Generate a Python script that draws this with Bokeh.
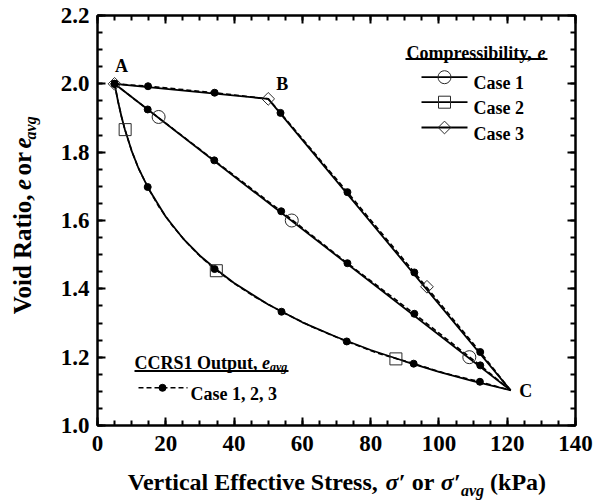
import numpy as np
from bokeh.plotting import figure
from bokeh.layouts import row, column
from bokeh.models import Range1d, LinearAxis, FixedTicker, NumeralTickFormatter, Label
from bokeh.embed import file_html
from bokeh.resources import INLINE
from bokeh.core.properties import value

# ---------------- data ----------------
x_major_ticks = [0, 20, 40, 60, 80, 100, 120, 140]
y_major_ticks = [1.0, 1.2, 1.4, 1.6, 1.8, 2.0, 2.2]

# Compressibility, e  (solid lines)
case1_e_x = [5, 121]
case1_e_y = [2.0, 1.103]
case1_mk_x = [17.9, 56.9, 108.9]
case1_mk_y = [1.903, 1.600, 1.200]

case2_e_x = [5, 6, 7, 8, 10, 12, 15, 20, 25, 30, 35, 40, 50, 60, 70, 80, 90, 100, 110, 121]
case2_e_y = [2.0, 1.949, 1.905, 1.867, 1.804, 1.753, 1.692, 1.611, 1.548, 1.497, 1.455, 1.417,
             1.354, 1.302, 1.259, 1.221, 1.188, 1.157, 1.130, 1.103]
case2_mk_x = [8.1, 34.8, 87.4]
case2_mk_y = [1.866, 1.453, 1.195]

case3_e_x = [5, 50, 121]
case3_e_y = [2.0, 1.956, 1.103]
case3_mk_x = [5, 50, 96.5]
case3_mk_y = [2.0, 1.956, 1.406]

point_names = ["A", "B", "C"]

# CCRS1 Output, e_avg  (dashed lines; dots at the output steps)
ccrs1_line_x = [5, 14.7, 34.2, 53.8, 73.2, 92.8, 112.1, 121]
ccrs1_line_y = [2.0, 1.925, 1.776, 1.627, 1.475, 1.327, 1.176, 1.103]
ccrs2_line_x = [5, 6, 7, 8, 10, 12, 14.7, 18, 22, 26, 30, 34.3, 40, 46, 53.9, 63, 73.0, 82,
                92.6, 102, 112.0, 121]
ccrs2_line_y = [2.0, 1.949, 1.905, 1.867, 1.804, 1.753, 1.698, 1.640, 1.584, 1.537, 1.496, 1.458,
                1.416, 1.377, 1.333, 1.288, 1.246, 1.212, 1.181, 1.152, 1.128, 1.103]
ccrs3_line_x = [5, 14.8, 34.3, 50, 53.6, 73.2, 92.8, 112.1, 121]
ccrs3_line_y = [2.0, 1.993, 1.974, 1.956, 1.915, 1.683, 1.448, 1.215, 1.103]

ccrs1_dot_x = [5, 14.7, 34.2, 53.8, 73.2, 92.8, 112.1]
ccrs1_dot_y = [2.0, 1.925, 1.776, 1.627, 1.475, 1.327, 1.176]
ccrs2_dot_x = [5, 14.7, 34.3, 53.9, 73.0, 92.6, 112.0]
ccrs2_dot_y = [2.0, 1.698, 1.458, 1.333, 1.246, 1.181, 1.128]
ccrs3_dot_x = [5, 14.8, 34.3, 53.6, 73.2, 92.8, 112.1]
ccrs3_dot_y = [2.0, 1.993, 1.974, 1.915, 1.683, 1.448, 1.215]

# ---------------- layout (page pixels) ----------------
W, H = 598, 502
YLAB_W = 50          # strip at the left holding the y-axis title
XLAB_H = 37          # strip at the bottom holding the x-axis title
FL, FT, FR = 97, 15, 23          # frame edges in page pixels
MAIN_W, MAIN_H = W - YLAB_W, H - XLAB_H
FB_MAIN = 40
FW = W - FL - FR
FH = MAIN_H - FT - FB_MAIN
XMIN, XMAX, YMIN, YMAX = 0, 140, 1.0, 2.2


def X(px):
    return XMIN + (px - FL) / FW * (XMAX - XMIN)


def Y(py):
    return YMAX - (py - FT) / FH * (YMAX - YMIN)


FONT = "Liberation Serif"

p = figure(width=MAIN_W, height=MAIN_H, x_range=Range1d(XMIN, XMAX), y_range=Range1d(YMIN, YMAX),
           output_backend="svg", toolbar_location=None,
           min_border_left=FL - YLAB_W, min_border_right=FR, min_border_top=FT,
           min_border_bottom=FB_MAIN)
p.xgrid.visible = False
p.ygrid.visible = False
p.outline_line_color = "black"
p.outline_line_width = 2
p.background_fill_color = "white"
p.border_fill_color = "white"

x_minor = [i * 5 for i in range(0, 29)]
y_minor = [round(1.0 + i * 0.05, 2) for i in range(0, 25)]

p.add_layout(LinearAxis(), "above")
p.add_layout(LinearAxis(), "right")


def style_axis(ax, ticks, minor, show):
    ax.ticker = FixedTicker(ticks=ticks, minor_ticks=minor)
    ax.axis_line_width = 2
    ax.axis_line_color = "black"
    ax.major_tick_in = 8
    ax.major_tick_out = 0
    ax.minor_tick_in = 5
    ax.minor_tick_out = 0
    ax.major_tick_line_width = 2
    ax.minor_tick_line_width = 2
    ax.axis_label = None
    if show:
        ax.major_label_text_font = FONT
        ax.major_label_text_font_style = "bold"
        ax.major_label_text_font_size = "23px"
        ax.major_label_text_color = "black"
    else:
        ax.major_label_text_color = None
        ax.major_label_text_font_size = "2px"
        ax.major_label_standoff = 0


for ax in p.below:
    style_axis(ax, x_major_ticks, x_minor, True)
    ax.major_label_standoff = 10
for ax in p.above:
    style_axis(ax, x_major_ticks, x_minor, False)
for ax in p.left:
    style_axis(ax, y_major_ticks, y_minor, True)
    ax.formatter = NumeralTickFormatter(format="0.0")
    ax.major_label_standoff = 8
for ax in p.right:
    style_axis(ax, y_major_ticks, y_minor, False)

LW = 1.8
MK_COLOR = "#2a2a2a"

# CCRS1 dashed lines + dots
for lx, ly, dx, dy in [(ccrs1_line_x, ccrs1_line_y, ccrs1_dot_x, ccrs1_dot_y),
                       (ccrs2_line_x, ccrs2_line_y, ccrs2_dot_x, ccrs2_dot_y),
                       (ccrs3_line_x, ccrs3_line_y, ccrs3_dot_x, ccrs3_dot_y)]:
    p.line(lx, ly, line_color="black", line_width=1.6, line_dash="5 3")
    p.scatter(dx, dy, marker="circle", size=7, fill_color="black", line_color="black")

# Compressibility solid lines
p.line(case1_e_x, case1_e_y, line_color="black", line_width=LW)
p.line(case2_e_x, case2_e_y, line_color="black", line_width=LW)
p.line(case3_e_x, case3_e_y, line_color="black", line_width=LW)

# open markers
CIRC = dict(marker="circle", size=13, fill_alpha=0, line_color=MK_COLOR, line_width=1)
SQR = dict(marker="square", size=12, fill_alpha=0, line_color=MK_COLOR, line_width=1)
DIA = dict(marker="square", size=9, angle=np.pi / 4, fill_alpha=0, line_color=MK_COLOR, line_width=1)
p.scatter(case1_mk_x, case1_mk_y, **CIRC)
p.scatter(case2_mk_x, case2_mk_y, **SQR)
p.scatter(case3_mk_x, case3_mk_y, **DIA)

# point labels A, B, C
p.text(x=case3_e_x, y=case3_e_y, text=point_names, x_offset=[7, 14, 15], y_offset=[-18, -15, 1],
       text_font=value(FONT), text_font_style="bold", text_font_size="18px",
       text_align="center", text_baseline="middle", text_color="black")

# ---------------- rich text helpers ----------------
TB = {' ': 250, '(': 333, ')': 333, ',': 250, '.': 250, 'A': 722, 'B': 667, 'C': 722, 'E': 667,
      'O': 778, 'P': 611, 'R': 722, 'S': 556, 'V': 722, 'a': 500, 'b': 556, 'c': 444, 'd': 556,
      'e': 444, 'f': 333, 'g': 500, 'i': 278, 'k': 556, 'l': 278, 'm': 833, 'o': 500, 'p': 556,
      'r': 444, 's': 389, 't': 333, 'u': 556, 'v': 500, 'y': 500, 'σ': 560, '′': 300}
for d in "0123456789":
    TB[d] = 500
TBI = dict(TB)
TBI.update({'v': 444})


def text_w(s, size, style):
    tab = TBI if "italic" in style else TB
    return sum(tab.get(ch, 500) for ch in s) * size / 1000.0


def rich_label(fig, pieces, px, py, xmap, ymap):
    """Horizontal rich text as Labels; pieces: (text, size_px, style, baseline_shift_px)."""
    pos = 0.0
    for txt, size, style, shift in pieces:
        core = txt.strip()
        lead = text_w(txt[:len(txt) - len(txt.lstrip())], size, style)
        fig.add_layout(Label(x=xmap(px + pos + lead), y=ymap(py + shift), text=core, text_font=FONT,
                             text_font_size=f"{size}px", text_font_style=style,
                             text_align="left", text_baseline="alphabetic", text_color="black"))
        pos += text_w(txt, size, style)


def rich_glyph_centered(fig, pieces, px, py, vertical=False):
    """Rich text as text glyphs, each piece centred on its own box.
    Horizontal: reads left->right from px with baseline py.
    Vertical: reads bottom->top from py with baseline at x=px."""
    pos = 0.0
    for txt, size, style, shift in pieces:
        core = txt.strip()
        lead = text_w(txt[:len(txt) - len(txt.lstrip())], size, style)
        cw = text_w(core, size, style)
        mid = pos + lead + cw / 2
        if vertical:
            cx, cy, ang = px + shift - 0.34 * size, py - mid, np.pi / 2
        else:
            cx, cy, ang = px + mid, py + shift - 0.34 * size, 0
        fig.text(x=[cx], y=[cy], text=[core], angle=ang, text_font=value(FONT),
                 text_font_size=f"{size}px", text_font_style=style, text_align="center",
                 text_baseline="middle", text_color="black")
        pos += text_w(txt, size, style)


def strip(w, h):
    f = figure(width=w, height=h, x_range=Range1d(0, w), y_range=Range1d(h, 0), title=None,
               output_backend="svg", toolbar_location=None, x_axis_type=None, y_axis_type=None,
               min_border=0, min_border_left=0, min_border_right=0, min_border_top=0,
               min_border_bottom=0)
    f.outline_line_color = None
    f.xgrid.visible = False
    f.ygrid.visible = False
    f.background_fill_color = "white"
    f.border_fill_color = "white"
    return f


AX = 24
AXY = 25
# y-axis title strip
yfig = strip(YLAB_W, MAIN_H)
rich_glyph_centered(yfig, [("Void Ratio,  ", AXY, "bold", 0), ("e", AXY, "bold italic", 0),
                           (" or ", AXY, "bold", 0), ("e", AXY, "bold italic", 0),
                           ("avg", 16, "bold italic", 5)], 30.5, 332, vertical=True)

# x-axis title strip (strip y = page y - MAIN_H)
xfig = strip(W, XLAB_H)
rich_glyph_centered(xfig, [("Vertical Effective Stress, ", AX, "bold", 0),
                           ("σ′", AX, "bold italic", 0), (" or ", AX, "bold", 0),
                           ("σ′", AX, "bold italic", 0), ("avg", 16, "bold italic", 5),
                           (" (kPa)", AX, "bold", 0)], 126, 490 - MAIN_H)

# ---------------- legend: Compressibility, e ----------------
LF = 18
rich_label(p, [("Compressibility, ", LF, "bold", 0), ("e", LF, "bold italic", 0)], 406, 52, X, Y)
p.segment(x0=[X(405)], y0=[Y(58.5)], x1=[X(547)], y1=[Y(58.5)], line_color="black", line_width=2)
leg_rows = [(76.7, CIRC, "Case 1"), (101.7, SQR, "Case 2"), (127.0, DIA, "Case 3")]
for yy, mk, lab in leg_rows:
    p.line([X(421), X(467)], [Y(yy), Y(yy)], line_color="black", line_width=LW)
    p.scatter([X(444)], [Y(yy)], **mk)
    rich_label(p, [(lab, LF, "bold", 0)], 473, yy + 6, X, Y)

# ---------------- legend: CCRS1 Output, e_avg ----------------
rich_label(p, [("CCRS1 Output, ", LF, "bold", 0), ("e", LF, "bold italic", 0),
               ("avg", 12, "bold italic", 4)], 134, 362, X, Y)
p.segment(x0=[X(134)], y0=[Y(370.5)], x1=[X(288)], y1=[Y(370.5)], line_color="black", line_width=2)
p.line([X(138), X(187)], [Y(387.3), Y(387.3)], line_color="black", line_width=1.6, line_dash="5 3")
p.scatter([X(162)], [Y(387.3)], marker="circle", size=7, fill_color="black", line_color="black")
rich_label(p, [("Case 1, 2, 3", LF, "bold", 0)], 190, 393.3, X, Y)

layout = column(row(yfig, p, spacing=0), xfig, spacing=0)
open("out.html", "w").write(file_html(layout, INLINE))
